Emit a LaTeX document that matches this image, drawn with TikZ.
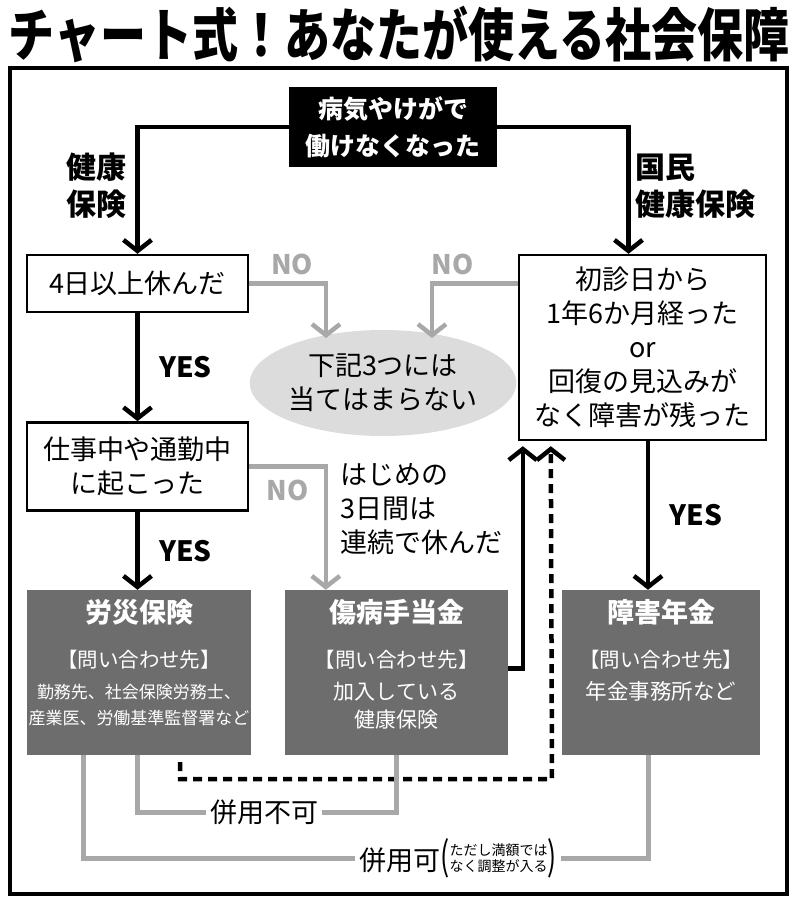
\documentclass[tikz,border=0pt]{standalone}
\usepackage{fontspec}
\usepackage{graphicx}
\setmainfont{Noto Sans CJK JP}
\usetikzlibrary{arrows.meta, positioning, calc, shapes.geometric}
\definecolor{boxgray}{HTML}{6D6D6D}
\definecolor{linegray}{HTML}{A8A8A8}
\definecolor{ellgray}{HTML}{DCDCDC}
\tikzstyle{box}=[draw, line width=2.4pt, inner sep=0pt, align=center, font=\fontsize{27}{34}\selectfont]
\tikzstyle{arr}=[line width=4.5pt, -{Straight Barb[length=11pt, width=28pt]}]
\tikzstyle{noarr}=[arr, draw=linegray]
\tikzstyle{res}=[fill=boxgray, minimum height=165pt, inner sep=0pt]
\tikzstyle{restitle}=[text=white, font=\fontsize{27}{32}\selectfont\bfseries]
\tikzstyle{resask}=[text=white, font=\fontsize{20.5}{26}\selectfont]
\tikzstyle{resbody}=[text=white, align=center, inner sep=0pt]
\tikzstyle{side}=[align=left, inner sep=0pt, font=\fontsize{30}{37}\selectfont\bfseries]
\tikzstyle{yes}=[font=\fontsize{28}{30}\selectfont\bfseries]
\tikzstyle{no}=[text=linegray, font=\fontsize{27}{30}\selectfont\bfseries]
\tikzstyle{tie}=[line width=5pt, draw=linegray]

\begin{document}
\begin{tikzpicture}[x=1pt, y=-1pt]
    \useasboundingbox (0,0) rectangle (800,906);
    \node (title) at (399,34) {\fontsize{46}{46}\selectfont\bfseries\scalebox{1}[1.25]{チャート式！あなたが使える社会保障}};
    \draw[line width=3.5pt] (10,68) rectangle (787,894);

    \node [box, fill=black, text=white, minimum width=206pt, minimum height=78pt,
           font=\fontsize{25}{37}\selectfont\bfseries] (start) at (393,127) {病気やけがで\\働けなくなった};
    \node [box, minimum width=221pt, minimum height=57pt] (four) at (137.5,283.5) {4日以上休んだ};
    \node [box, minimum width=221pt, minimum height=88pt, below=108pt of four] (work) {仕事中や通勤中\\に起こった};
    \node [ellipse, fill=ellgray, minimum width=228pt, minimum height=106pt, inner sep=0pt, align=center,
           font=\fontsize{27}{34}\selectfont] (none) at (383,383) {下記3つには\\当てはまらない};
    \node [box, minimum width=247pt, minimum height=185pt] (first) at (642.5,347.5) {初診日から\\1年6か月経った\\or\\回復の見込みが\\なく障害が残った};
    \node [anchor=north west, align=left, inner sep=0pt, font=\fontsize{27}{34}\selectfont] (firstdays) at (340,463) {はじめの\\3日間は\\連続で休んだ};

    \node [side, align=center] (kenpo) at (96,186) {健康\\保険};
    \node [side, anchor=west] (kokuho) at (635,186) {国民\\健康保険};

    % results
    \node [res, minimum width=224pt] (rousai) at (139,672.5) {};
    \node [res, minimum width=223pt] (shobyo) at (396.5,672.5) {};
    \node [res, minimum width=198pt] (shougai) at (661,672.5) {};
    \node [restitle] (rousaiT) at ($(rousai.north)+(0,22)$) {労災保険};
    \node [resask] (rousaiA) at ($(rousai.north)+(0,70)$) {【問い合わせ先】};
    \node [resbody, font=\fontsize{17}{26}\selectfont] (rousaiB) at ($(rousai.north)+(0,115)$) {勤務先、社会保険労務士、\\産業医、労働基準監督署など};
    \node [restitle] (shobyoT) at ($(shobyo.north)+(0,22)$) {傷病手当金};
    \node [resask] (shobyoA) at ($(shobyo.north)+(0,70)$) {【問い合わせ先】};
    \node [resbody, font=\fontsize{21}{28}\selectfont] (shobyoB) at ($(shobyo.north)+(0,116)$) {加入している\\健康保険};
    \node [restitle] (shougaiT) at ($(shougai.north)+(0,22)$) {障害年金};
    \node [resask] (shougaiA) at ($(shougai.north)+(0,70)$) {【問い合わせ先】};
    \node [resbody, font=\fontsize{21.5}{28}\selectfont] (shougaiB) at ($(shougai.north)+(0,102)$) {年金事務所など};

    \coordinate (hitA) at (326,338);
    \coordinate (hitB) at (432,338);
    \coordinate (dstart) at (180,762);
    \coordinate (dturn) at (552,779);

    \path (start.west) edge[arr, to path={-| (\tikztotarget)}] (four.north);
    \path (start.east) edge[arr, to path={-| (\tikztotarget)}] ($(first.north)+(-14,0)$);
    \draw[arr] (four) -- node[yes, right=16pt] (yes1) {YES} (work);
    \draw[arr] (work.south) -- node[yes, right=16pt] (yes2) {YES} (work.south |- rousai.north);
    \draw[arr] ($(first.south)+(5.5,0)$) -- node[yes, right=16pt] (yes3) {YES} ($(shougai.north)+(-13,0)$);

    \draw[noarr] (four.east) -| node[no, above=3pt, pos=0.28] (no1) {NO} (hitA);
    \draw[noarr] (first.west |- four.east) -| node[no, above=3pt, pos=0.38] (no2) {NO} (hitB);
    \draw[noarr] (work.east) -| node[no, below=8pt, pos=0.25] (no3) {NO} ($(shobyo.north west)+(41,0)$);

    \draw[arr] ($(shobyo.east)+(0,-4)$) -| ($(first.south west)+(5,5)$);
    \draw[arr, dash pattern=on 9pt off 6pt] (dstart) |- (dturn) -- ($(first.south west)+(33,5)$);

    % combined use
    \node [font=\fontsize{27}{30}\selectfont] (nouse) at (264,812) {併用不可};
    \draw[tie] ($(rousai.south)+(-2,0)$) |- (nouse.west);
    \draw[tie] (nouse.east) -| (shobyo.south);
    \node [font=\fontsize{27}{30}\selectfont, inner sep=4pt] (both) at (458,858)
        {併用可\scalebox{1}[1.45]{(}{\fontsize{14}{15}\selectfont\raisebox{-1pt}{\shortstack{ただし満額では\\なく調整が入る}}}\scalebox{1}[1.45]{)}};
    \draw[tie] ($(rousai.south west)+(57,0)$) |- (both.west);
    \draw[tie] (both.east) -| ($(shougai.south)+(-13,0)$);
\end{tikzpicture}
\end{document}
